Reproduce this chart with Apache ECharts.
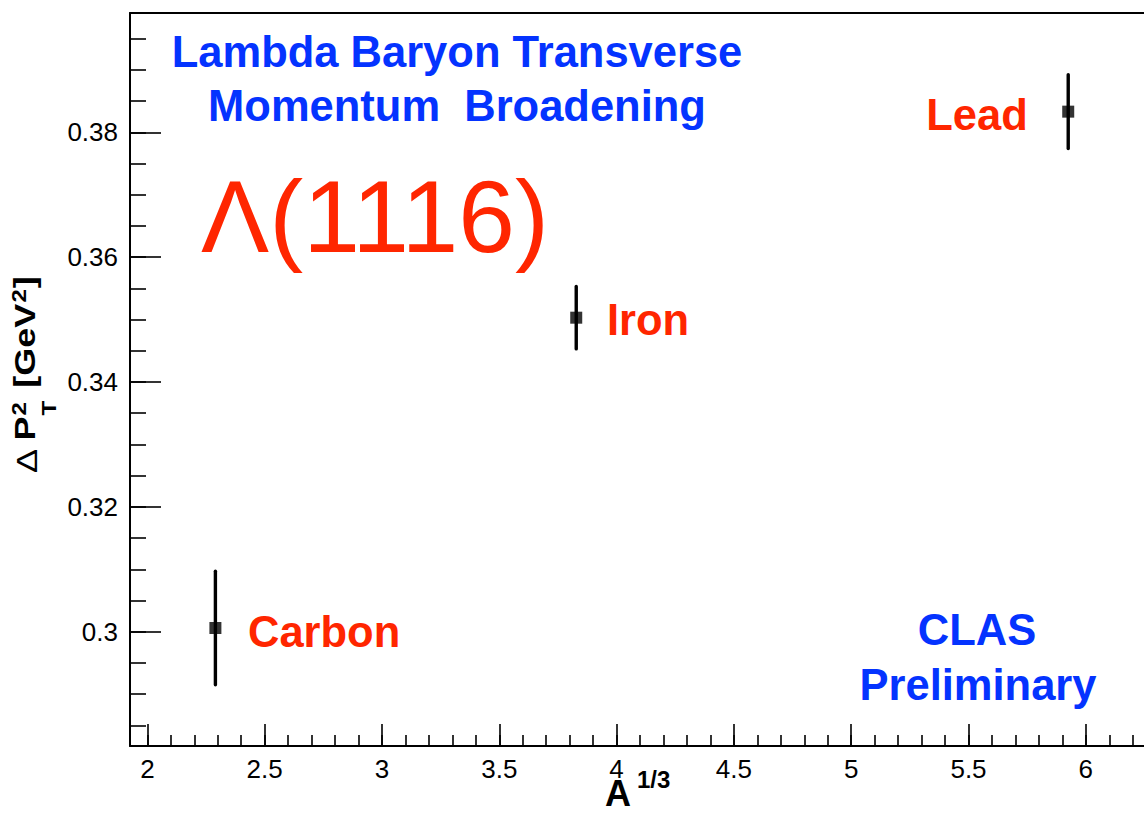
<!DOCTYPE html>
<html><head><meta charset="utf-8">
<script src="https://cdn.jsdelivr.net/npm/echarts@6/dist/echarts.min.js"></script>
<style>html,body{margin:0;padding:0;background:#fff}#c{width:1144px;height:813px}</style>
</head><body><div id="c"></div>
<script>
// ---- data ----
const elements = ['Carbon', 'Iron', 'Lead'];
const aThird = [2.29, 3.828, 5.925];
const dpt2 = [0.3006, 0.3503, 0.3833];
const dpt2Err = [0.0091, 0.0050, 0.0059];
const xMajorTicks = [2, 2.5, 3, 3.5, 4, 4.5, 5, 5.5, 6];
const xMinorTicks = [2.0, 2.1, 2.2, 2.3, 2.4, 2.5, 2.6, 2.7, 2.8, 2.9, 3.0, 3.1, 3.2, 3.3, 3.4, 3.5, 3.6, 3.7, 3.8, 3.9,
  4.0, 4.1, 4.2, 4.3, 4.4, 4.5, 4.6, 4.7, 4.8, 4.9, 5.0, 5.1, 5.2, 5.3, 5.4, 5.5, 5.6, 5.7, 5.8, 5.9, 6.0, 6.1, 6.2];
const yMajorTicks = [0.3, 0.32, 0.34, 0.36, 0.38];
const yMinorTicks = [0.285, 0.29, 0.295, 0.3, 0.305, 0.31, 0.315, 0.32, 0.325, 0.33, 0.335, 0.34, 0.345, 0.35,
  0.355, 0.36, 0.365, 0.37, 0.375, 0.38, 0.385, 0.39, 0.395];
const xRange = [1.926, 6.248];
const yRange = [0.2817, 0.3991];

const FONT = '"Liberation Sans", Arial, Helvetica, sans-serif';
const RED = '#FF2600', BLUE = '#0433FF';

const chart = echarts.init(document.getElementById('c'), null, { renderer: 'svg' });

const pts = aThird.map((x, i) => [x, dpt2[i]]);
const errData = aThird.map((x, i) => [x, dpt2[i], dpt2Err[i]]);

function txt(text, x, y, size, color, opts) {
  opts = opts || {};
  return {
    type: 'text', x: x, y: y, silent: true,
    style: {
      text: text, fill: color, fontSize: size, fontWeight: opts.weight || 'bold', fontFamily: FONT,
      textAlign: opts.align || 'center', textVerticalAlign: 'middle'
    }
  };
}

const axisLineStyle = { color: '#000', width: 2 };
const tickStyle = { color: '#000', width: 1.6 };

const option = {
  backgroundColor: '#fff',
  animation: false,
  grid: { left: 130, top: 13, right: 0, bottom: 67, show: false },
  xAxis: [
    {
      type: 'value', min: xRange[0], max: xRange[1], position: 'bottom',
      axisLine: { show: true, onZero: false, lineStyle: axisLineStyle },
      axisTick: { show: true, inside: true, length: 22, customValues: xMajorTicks, lineStyle: tickStyle },
      axisLabel: { show: true, customValues: xMajorTicks, fontSize: 26, fontFamily: FONT, color: '#000', margin: 10 },
      splitLine: { show: false }
    },
    {
      type: 'value', min: xRange[0], max: xRange[1], position: 'bottom', offset: 0,
      axisLine: { show: false, onZero: false },
      axisTick: { show: true, inside: true, length: 11, customValues: xMinorTicks, lineStyle: tickStyle },
      axisLabel: { show: false },
      splitLine: { show: false }
    },
    {
      type: 'value', min: xRange[0], max: xRange[1], position: 'top',
      axisLine: { show: true, onZero: false, lineStyle: axisLineStyle },
      axisTick: { show: false }, axisLabel: { show: false }, splitLine: { show: false }
    }
  ],
  yAxis: [
    {
      type: 'value', min: yRange[0], max: yRange[1], position: 'left',
      axisLine: { show: true, onZero: false, lineStyle: axisLineStyle },
      axisTick: { show: true, inside: true, length: 31, customValues: yMajorTicks, lineStyle: tickStyle },
      axisLabel: { show: true, customValues: yMajorTicks, fontSize: 26, fontFamily: FONT, color: '#000', margin: 12 },
      splitLine: { show: false }
    },
    {
      type: 'value', min: yRange[0], max: yRange[1], position: 'left', offset: 0,
      axisLine: { show: false, onZero: false },
      axisTick: { show: true, inside: true, length: 16, customValues: yMinorTicks, lineStyle: tickStyle },
      axisLabel: { show: false },
      splitLine: { show: false }
    }
  ],
  series: [
    {
      type: 'custom', xAxisIndex: 0, yAxisIndex: 0, data: errData, z: 3,
      renderItem: function (params, api) {
        const x = api.value(0), y = api.value(1), e = api.value(2);
        const p1 = api.coord([x, y - e]);
        const p2 = api.coord([x, y + e]);
        return {
          type: 'line',
          shape: { x1: p1[0], y1: p1[1], x2: p2[0], y2: p2[1] },
          style: { stroke: '#000', lineWidth: 3.4, lineCap: 'round' }
        };
      }
    },
    {
      type: 'scatter', xAxisIndex: 0, yAxisIndex: 0, data: pts, symbol: 'rect', symbolSize: 12, z: 4,
      itemStyle: { color: '#000' }
    }
  ],
  graphic: [
    txt('Lambda Baryon Transverse', 457, 52, 43.5, BLUE),
    txt('Momentum  Broadening', 457, 106, 43.5, BLUE),
    txt('\u039B(1116)', 375, 217, 102, RED, { weight: 'normal' }),
    txt(elements[2], 977, 115, 43.5, RED),
    txt(elements[1], 607, 320, 43.5, RED, { align: 'left' }),
    txt(elements[0], 248, 632, 43.5, RED, { align: 'left' }),
    txt('CLAS', 977, 630, 43.5, BLUE),
    txt('Preliminary', 978, 685, 43.5, BLUE),
    // x-axis title A^{1/3}
    txt('A', 618, 793, 36, '#000'),
    txt('1/3', 637, 779, 24, '#000', { align: 'left' }),
    // y-axis title  Δ P_T^2 [GeV^2]
    {
      type: 'group', x: 37, y: 473, rotation: Math.PI / 2, scaleX: 1.2, silent: true,
      children: [
        txt('\u0394', 0, -10, 30, '#000', { align: 'left', weight: 'normal' }),
        txt('P', 27, -12, 30, '#000', { align: 'left' }),
        txt('2', 48, -18, 20, '#000', { align: 'left' }),
        txt('T', 48, 12, 20, '#000', { align: 'left' }),
        txt('[GeV', 71, -12, 30, '#000', { align: 'left' }),
        txt('2', 142, -18, 20, '#000', { align: 'left' }),
        txt(']', 154, -12, 30, '#000', { align: 'left' })
      ]
    }
  ]
};
chart.setOption(option);
</script>
</body></html>
